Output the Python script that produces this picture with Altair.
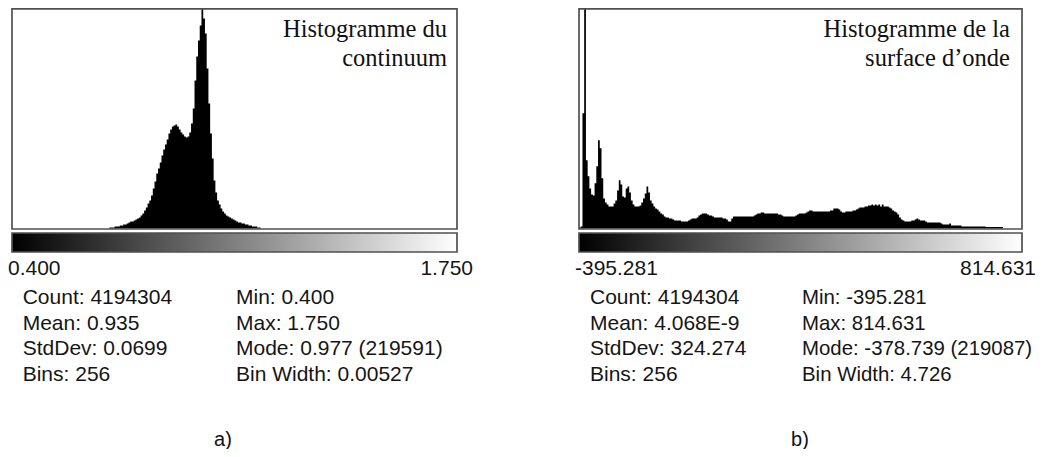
import altair as alt
import pandas as pd

# ---------------- data: panel a (continuum) ----------------
cont_first_bin = 56
cont_counts_k = [  # counts in thousands, bins 56..142 (others are empty)
    1, 1, 1, 2, 2, 2, 3, 3, 4, 4, 5, 6, 7, 7, 8, 9,
    10, 11, 13, 15, 18, 21, 25, 28, 33, 40, 47, 55, 60, 66, 73, 79,
    84, 89, 95, 99, 102, 103, 104, 102, 99, 96, 94, 92, 91, 92, 96, 105,
    120, 148, 172, 188, 203, 219.591, 210, 195, 160, 125, 95, 70, 48, 36, 28, 24,
    20, 17, 15, 13, 12, 11, 10, 9, 8, 7, 6, 6, 5, 5, 4, 4,
    3, 3, 2, 2, 2, 1, 1,
]
cont_mode_k = 219.591
cont_title = ["Histogramme du", "continuum"]
cont_min_label, cont_max_label = "0.400", "1.750"
cont_stats_left = ["Count: 4194304", "Mean: 0.935", "StdDev: 0.0699", "Bins: 256"]
cont_stats_right = ["Min: 0.400", "Max: 1.750", "Mode: 0.977 (219591)", "Bin Width: 0.00527"]

# ---------------- data: panel b (surface d'onde) ----------------
wave_counts_k = [  # counts in thousands, 256 bins
    1, 2, 115, 219.087, 68, 52, 40, 34, 33, 45, 62, 88, 80, 50, 30, 26,
    24, 22, 22, 22, 25, 28, 38, 48, 44, 32, 31, 40, 42, 36, 28, 24,
    22, 22, 22, 23, 26, 30, 35, 42, 36, 28, 25, 22, 20, 19, 17, 15,
    14, 12, 11, 11, 10, 10, 9, 8, 8, 8, 8, 7, 7, 7, 7, 8,
    9, 10, 10, 10, 11, 13, 14, 15, 15, 15, 14, 13, 13, 12, 11, 11,
    11, 11, 11, 10, 10, 9, 7, 7, 10, 12, 12, 12, 12, 12, 12, 12,
    12, 12, 12, 12, 12, 13, 14, 15, 15, 16, 16, 15, 15, 15, 15, 15,
    15, 15, 15, 14, 14, 13, 12, 12, 12, 12, 12, 12, 12, 13, 14, 15,
    15, 15, 15, 16, 17, 18, 18, 17, 17, 17, 17, 17, 17, 17, 17, 17,
    17, 18, 18, 20, 20, 20, 19, 17, 16, 16, 17, 17, 17, 17, 18, 18,
    19, 20, 21, 21, 21, 22, 22, 23, 23, 24, 23, 24, 23, 24, 22, 24,
    22, 22, 22, 21, 20, 18, 17, 16, 14, 11, 9, 8, 7, 7, 7, 7,
    8, 8, 9, 10, 9, 8, 8, 8, 7, 6, 6, 6, 6, 6, 6, 6,
    6, 5, 4, 4, 4, 4, 5, 3, 3, 3, 3, 3, 3, 2, 2, 2,
    2, 2, 2, 2, 2, 2, 2, 2, 2, 2, 2, 1.5, 1.5, 1.5, 1.5, 1.5,
    1.5, 1.5, 1.5, 1.5, 1.5, 0, 0, 0, 0, 0, 0, 0, 0, 0, 0, 0,
]
wave_mode_k = 219.087
wave_title = ["Histogramme de la", "surface d\u2019onde"]
wave_min_label, wave_max_label = "-395.281", "814.631"
wave_stats_left = ["Count: 4194304", "Mean: 4.068E-9", "StdDev: 324.274", "Bins: 256"]
wave_stats_right = ["Min: -395.281", "Max: 814.631", "Mode: -378.739 (219087)", "Bin Width: 4.726"]

captions = ["a)", "b)"]
N_BINS = 256

# ---------------- layout ----------------
W, H = 1029, 441
SANS = "Liberation Sans"
SERIF = "Liberation Serif"
FRAME = "#505050"
TXT = "#151515"

one = pd.DataFrame({"k": [0]})

gradient = alt.Gradient(
    gradient="linear",
    stops=[alt.GradientStop(offset=0, color="#000000"),
           alt.GradientStop(offset=1, color="#ffffff")],
    x1=0, x2=1, y1=0, y2=0,
)


def text_layer(lines, x, y, size, font=SANS, align="left", lh=25.6, color=TXT):
    return alt.Chart(one).mark_text(
        text=lines, align=align, baseline="alphabetic", font=font,
        fontSize=size, lineHeight=lh, color=color,
    ).encode(x=alt.value(x), y=alt.value(y))


def panel(counts, mode_k, x0, x1, title, title_right, lo, hi, lo_x, hi_x,
          stats_l, stats_r, sx_l, sx_r, caption, cap_x, stats_r_size=21):
    df = pd.DataFrame({"bin": list(range(N_BINS + 1)),
                       "count": list(counts) + [counts[-1]]})
    xs = alt.Scale(domain=[0, N_BINS], range=[x0, x1])
    ys = alt.Scale(domain=[0, mode_k], range=[220.5, 0.8])
    hist = alt.Chart(df).mark_area(interpolate="step-after", color="black").encode(
        x=alt.X("bin:Q", scale=xs, axis=None),
        y=alt.Y("count:Q", scale=ys, axis=None),
    )
    span = pd.DataFrame({"a": [0], "b": [N_BINS]})
    frame = alt.Chart(span).mark_rect(filled=False, color=FRAME, strokeWidth=1.7).encode(
        x=alt.X("a:Q", scale=xs, axis=None), x2="b:Q",
        y=alt.value(0.8), y2=alt.value(221),
    )
    grad = alt.Chart(span).mark_rect(fill=gradient, stroke=FRAME, strokeWidth=1.7).encode(
        x=alt.X("a:Q", scale=xs, axis=None), x2="b:Q",
        y=alt.value(225), y2=alt.value(244),
    )
    layers = [
        hist, frame, grad,
        text_layer(title, title_right, 28.5, 24.5, font=SERIF, align="right", lh=29.5, color="#111"),
        text_layer([lo], lo_x, 267, 21),
        text_layer([hi], hi_x, 267, 21, align="right"),
        text_layer(stats_l, sx_l, 296, 21),
        text_layer(stats_r, sx_r, 296, stats_r_size),
        text_layer([caption], cap_x, 438, 20, align="center", color="#111"),
    ]
    return layers


full_a = [0] * cont_first_bin + cont_counts_k
full_a = full_a + [0] * (N_BINS - len(full_a))

layers = panel(full_a, cont_mode_k, 4, 449, cont_title, 439,
               cont_min_label, cont_max_label, 0, 465,
               cont_stats_left, cont_stats_right, 14.7, 228, captions[0], 215)
layers += panel(wave_counts_k, wave_mode_k, 571, 1014, wave_title, 1002,
                wave_min_label, wave_max_label, 567, 1028,
                wave_stats_left, wave_stats_right, 582, 794, captions[1], 792,
                stats_r_size=20.4)

chart = alt.layer(*layers).resolve_scale(x="independent", y="independent").properties(
    width=W, height=H, autosize=alt.AutoSizeParams(type="none"), padding=0,
    background="white",
).configure_view(stroke=None)

chart.save("out.html", embed_options={"renderer": "svg", "actions": False})
